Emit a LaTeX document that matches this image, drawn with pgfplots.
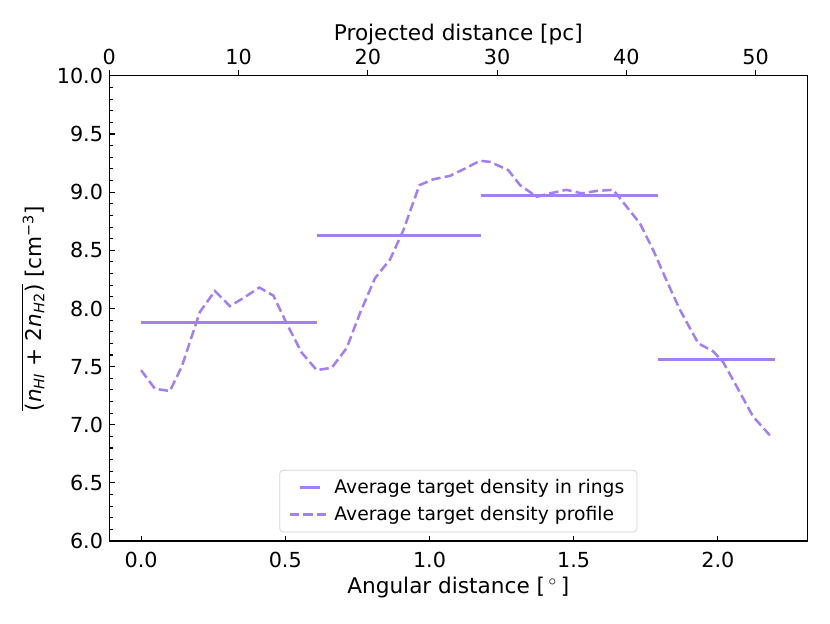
\documentclass[border=0pt]{standalone}
\usepackage{fontspec}
\setmainfont{DejaVu Sans}
\usepackage{pgfplots}
\pgfplotsset{compat=1.18}
\definecolor{mpurple}{RGB}{163,128,240}
\begin{document}
\begin{tikzpicture}
\path[use as bounding box] (0,0) rectangle (460.8pt,346.1pt);
\begin{axis}[
  at={(60.7pt,45.7pt)}, anchor=south west,
  scale only axis, width=387.5pt, height=258.3pt,
  xmin=-0.11, xmax=2.31, ymin=6, ymax=10,
  xtick={0,0.5,1,1.5,2}, ytick={6,6.5,7,7.5,8,8.5,9,9.5,10},
  minor y tick num=4,
  tick align=inside, xtick pos=left, ytick pos=left,
  major tick length=3pt, minor tick length=1.8pt,
  axis line style={line width=0.7pt},
  every tick/.style={black, line width=0.6pt},
  /pgf/number format/assume math mode=true,
  /pgf/number format/.cd, fixed, fixed zerofill, precision=1, /pgfplots/.cd,
  ticklabel style={font=\fontsize{11.5}{13}\selectfont},
  xticklabel style={anchor=base, yshift=-14.4pt},
  label style={font=\fontsize{12}{14}\selectfont},
  xlabel={Angular distance [\,$^\circ$\,]},
  xlabel style={at={(axis description cs:0.5,0)}, anchor=base, yshift=-29.2pt},
  ylabel={$\overline{\hbox{(\textit{n}\textsubscript{\textit{HI}} + 2\textit{n}\textsubscript{\textit{H}2})}}$ [cm\textsuperscript{−3}]},
  legend style={at={(0.5,0.0187)}, anchor=south, draw=black!18, rounded corners=2pt,
    fill=white, font=\fontsize{10.4}{12}\selectfont, row sep=1.5pt,
    inner xsep=5pt, inner ysep=3pt, cells={anchor=west}},
  legend cell align=left,
]
\addplot[mpurple, line width=1.5pt, unbounded coords=jump,
  legend image code/.code={\path[draw=none] (0pt,0pt) -- (22pt,0pt);\draw[mpurple, line width=1.5pt] (5.5pt,0pt) -- (16.5pt,0pt);}]
  coordinates {
  (0,7.88) (0.609,7.88) (0.609,nan)
  (0.609,8.63) (1.178,8.63) (1.178,nan)
  (1.18,8.97) (1.791,8.97) (1.791,nan)
  (1.791,7.56) (2.198,7.56)
  };
\addlegendentry{Average target density in rings}
\addplot[mpurple, line width=1.4pt, dash pattern=on 5.2pt off 2.3pt,
  legend image code/.code={\draw[mpurple, line width=1.4pt, dash pattern=on 5.2pt off 2.3pt] (0pt,0pt) -- (22pt,0pt);}]
  coordinates {
  (0.000,7.47) (0.048,7.31) (0.100,7.29) (0.141,7.50) (0.204,7.97)
  (0.256,8.15) (0.308,8.02) (0.355,8.09) (0.410,8.18) (0.459,8.11)
  (0.505,7.87) (0.557,7.62) (0.609,7.47) (0.661,7.49) (0.713,7.66)
  (0.759,7.96) (0.811,8.26) (0.863,8.42) (0.909,8.67) (0.965,9.06)
  (1.013,9.11) (1.071,9.14) (1.129,9.21) (1.175,9.27) (1.210,9.26)
  (1.273,9.19) (1.314,9.06) (1.372,8.96) (1.418,8.99) (1.475,9.02)
  (1.527,8.99) (1.579,9.01) (1.637,9.02) (1.666,8.93) (1.730,8.73)
  (1.776,8.50) (1.822,8.24) (1.868,7.99) (1.932,7.70) (1.984,7.63)
  (2.018,7.54) (2.065,7.33) (2.122,7.07) (2.180,6.91)
  };
\addlegendentry{Average target density profile}
\end{axis}
\begin{axis}[
  at={(60.7pt,45.7pt)}, anchor=south west,
  scale only axis, width=387.5pt, height=258.3pt,
  xmin=0, xmax=54.0, ymin=0, ymax=1,
  axis x line*=top, axis y line=none,
  xtick={0,10,20,30,40,50},
  tick align=outside, major tick length=3pt,
  axis line style={line width=0.7pt, -},
  every tick/.style={black, line width=0.6pt},
  /pgf/number format/assume math mode=true,
  ticklabel style={font=\fontsize{11.5}{13}\selectfont},
  xticklabel style={anchor=base, yshift=3.5pt},
  label style={font=\fontsize{12}{14}\selectfont},
  xlabel={Projected distance [pc]},
  xlabel style={at={(axis description cs:0.5,1)}, anchor=base, yshift=19.4pt},
]
\end{axis}
\end{tikzpicture}
\end{document}
